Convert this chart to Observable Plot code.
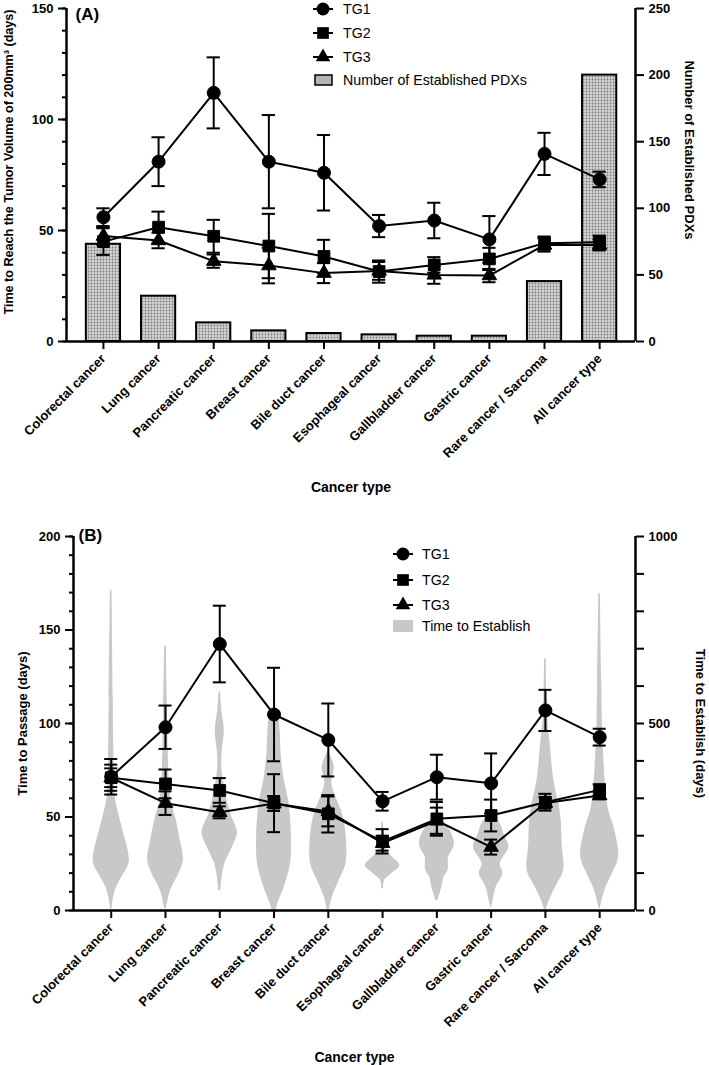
<!DOCTYPE html>
<html><head><meta charset="utf-8">
<script src="https://cdn.jsdelivr.net/npm/d3@7"></script>
<script src="https://cdn.jsdelivr.net/npm/@observablehq/plot@0.6"></script>
<style>
body{margin:0;background:#fff;}
#wrap{position:relative;width:709px;height:1065px;overflow:hidden;font-family:Arial,"Liberation Sans",sans-serif;}
#wrap svg{display:block}
#legend{position:absolute;left:0;top:0;}
</style></head><body><div id="wrap"></div>
<script>
const categories = ["Colorectal cancer","Lung cancer","Pancreatic cancer","Breast cancer","Bile duct cancer","Esophageal cancer","Gallbladder cancer","Gastric cancer","Rare cancer / Sarcoma","All cancer type"];

// Panel A: time to reach 200 mm3 (days), mean and error
const tg1A    = [56, 81, 112, 81, 76, 52, 54.5, 46, 84.5, 73];
const tg1AErr = [4, 11, 16, 21, 17, 5, 8, 10.5, 9.5, 3.5];
const tg2A    = [45, 51.5, 47.4, 43, 38.3, 31.5, 34.5, 37.2, 44.3, 44.7];
const tg2AErr = [6, 7, 7.4, 14.5, 7.5, 5, 3.5, 5, 3, 3];
const tg3A    = [47.5, 45.5, 36.2, 34.2, 30.8, 31.8, 30, 29.7, 43.5, 43.5];
const tg3AErr = [4, 3.5, 3, 8, 4.5, 4, 4, 3, 3, 2.5];
const pdxCount = [73, 34, 14, 8, 6, 5, 4, 4, 45, 200];

// Panel B: time to passage (days)
const tg1B    = [71.5, 98, 142.5, 104.8, 91.2, 58.4, 71.3, 68, 107, 92.7];
const tg1BErr = [9.5, 11.6, 20.5, 25, 19.5, 5, 12, 16, 11, 4.5];
const tg2B    = [71, 67.7, 64.2, 57.4, 51.7, 37, 49, 50.8, 57.9, 64.5];
const tg2BErr = [7, 7.7, 6.6, 15.5, 10, 6.5, 9, 8.5, 4.5, 3];
const tg3B    = [71, 57.4, 52.5, 57.2, 53, 36, 48, 33.9, 57.5, 61.5];
const tg3BErr = [5, 6.3, 3.2, 4, 8, 4, 7, 4, 3, 2];

// Time to establish (days): violin profiles [days, relative density]
const violins = [
  [[0,0.5],[36,2.5],[62,5.3],[98,12.5],[129,17.8],[169,16],[205,12.5],[258,7.5],[303,4],[437,2.5],[570,2],[856,0.8]],
  [[5,0.8],[53,5],[98,13.3],[134,17.7],[187,14.7],[240,10.8],[303,5],[393,3],[526,2],[708,0.8]],
  [[53,1],[80,2],[125,5],[169,12.5],[209,17.5],[258,10.8],[312,6],[383,2],[428,2.5],[481,4.5],[535,2],[584,0.8]],
  [[0,2],[20,4],[62,10],[125,16.3],[187,17.3],[258,16],[300,14],[350,10],[420,7],[480,6],[525,4],[535,1]],
  [[0,1],[36,4],[80,10.8],[125,17.5],[205,17.5],[258,14],[300,8],[339,3.5],[383,6],[410,3],[423,1]],
  [[58,1],[80,2],[98,9],[120,17.2],[147,8],[169,3],[236,0.8]],
  [[27,1],[62,5],[89,7],[107,11],[143,11.7],[169,16.7],[187,17],[214,13],[240,6],[260,2],[275,0.8]],
  [[9,0.5],[27,2],[62,5],[98,11.7],[125,9],[169,17.5],[205,12.5],[227,10],[250,5],[270,1]],
  [[0,0.5],[27,4],[62,10],[107,18],[169,16.7],[258,15],[348,8.3],[437,5],[526,2],[673,0.8]],
  [[5,0.5],[53,5],[98,12.5],[143,18.8],[214,15],[276,8.3],[437,3.5],[615,2],[847,0.8]]
];

const FONT = "Arial, 'Liberation Sans', sans-serif";
const idx = d3.range(categories.length);

function seriesRows(vals, errs, name) {
  return vals.map((v, i) => ({i, v, lo: v - errs[i], hi: v + errs[i], name}));
}
function seriesMarks(rows) {
  const cap = 0.12;
  return [
    Plot.ruleX(rows, {x: "i", y1: "lo", y2: "hi", stroke: "#000", strokeWidth: 2}),
    Plot.ruleY(rows, {y: "hi", x1: d => d.i - cap, x2: d => d.i + cap, stroke: "#000", strokeWidth: 2}),
    Plot.ruleY(rows, {y: "lo", x1: d => d.i - cap, x2: d => d.i + cap, stroke: "#000", strokeWidth: 2}),
    Plot.line(rows, {x: "i", y: "v", stroke: "#000", strokeWidth: 2})
  ];
}
function dotMark(rows, symbol, r) {
  return Plot.dot(rows, {x: "i", y: "v", symbol, r, fill: "#000", stroke: "#000", strokeWidth: 1});
}
function xAxisMarks(dom, yTop) {
  return [
    Plot.ruleX([dom[0]], {y1: 0, y2: yTop, stroke: "#000", strokeWidth: 2.5}),
    Plot.ruleX([dom[1]], {y1: 0, y2: yTop, stroke: "#000", strokeWidth: 2.5}),
    Plot.ruleY([0], {x1: dom[0], x2: dom[1], stroke: "#000", strokeWidth: 2.5}),
    Plot.axisX({ticks: idx, tickFormat: i => categories[i], tickRotate: -45, tickSize: 8, tickPadding: 7,
      strokeWidth: 2, fontSize: 13, fontWeight: "bold", fill: "#000", label: null})
  ];
}
const yText = {fontSize: 13, fontWeight: "bold", fill: "#000", label: null};

// ---------- Panel A ----------
const A = seriesRows(tg1A, tg1AErr, "TG1");
const B2 = seriesRows(tg2A, tg2AErr, "TG2");
const C3 = seriesRows(tg3A, tg3AErr, "TG3");
const kA = 150 / 250;
const barRows = pdxCount.map((c, i) => ({i, c, y: c * kA}));
const domA = [-0.67, 9.65];

const plotA = Plot.plot({
  width: 709, height: 505,
  marginLeft: 66, marginRight: 74, marginTop: 8, marginBottom: 164,
  style: {fontFamily: FONT, fontSize: "12px", fontWeight: "bold", color: "#000", background: "#fff"},
  x: {domain: domA, axis: null},
  y: {domain: [0, 150], axis: null},
  marks: [
    Plot.rectY(barRows, {x1: d => d.i - 0.31, x2: d => d.i + 0.31, y1: 0, y2: "y", fill: "url(#dotsPattern)", stroke: "#000", strokeWidth: 2}),
    ...xAxisMarks(domA, 150),
    Plot.axisY({ticks: d3.range(0, 151, 10), tickSize: 4, tickFormat: () => "", strokeWidth: 2, label: null}),
    Plot.axisY({ticks: [0, 50, 100, 150], tickSize: 8, tickPadding: 5, strokeWidth: 2, ...yText}),
    Plot.axisY({anchor: "right", ticks: [0, 50, 100, 150, 200, 250].map(c => c * kA), tickFormat: d => String(Math.round(d / kA)),
      tickSize: 8, tickPadding: 5, strokeWidth: 2, ...yText}),
    ...seriesMarks(A), ...seriesMarks(C3), ...seriesMarks(B2),
    dotMark(A, "circle", 6.5), dotMark(C3, "triangle", 5.4), dotMark(B2, "square", 6.6),
    Plot.text(["(A)"], {frameAnchor: "top-left", dx: 9, dy: 6, textAnchor: "start", lineAnchor: "middle", fontSize: 17, fontWeight: "bold", fill: "#000"}),
    Plot.text(["Cancer type"], {frameAnchor: "bottom", dy: 146, lineAnchor: "middle", fontSize: 14, fontWeight: "bold", fill: "#000"}),
    Plot.text(["Time to Reach the Tumor Volume of 200mm³ (days)"], {frameAnchor: "left", dx: -58, dy: -13, rotate: -90, textAnchor: "middle", lineAnchor: "middle", fontSize: 12.6, fontWeight: "bold", fill: "#000"}),
    Plot.text(["Number of Established PDXs"], {frameAnchor: "right", dx: 54, dy: -25, rotate: 90, textAnchor: "middle", lineAnchor: "middle", fontSize: 13, fontWeight: "bold", fill: "#000"})
  ]
});

// ---------- Panel B ----------
const P1 = seriesRows(tg1B, tg1BErr, "TG1");
const P2 = seriesRows(tg2B, tg2BErr, "TG2");
const P3 = seriesRows(tg3B, tg3BErr, "TG3");
const kB = 200 / 1000;
const vk = 0.35 / 18.8;
const violinRows = violins.flatMap((prof, i) => prof.map(([d, w]) => ({i, y: d * kB, x1: i - w * vk, x2: i + w * vk})));
const domB = [-0.695, 9.66];

const plotB = Plot.plot({
  width: 709, height: 560,
  marginLeft: 73, marginRight: 74, marginTop: 31, marginBottom: 155,
  style: {fontFamily: FONT, fontSize: "12px", fontWeight: "bold", color: "#000", background: "#fff"},
  x: {domain: domB, axis: null},
  y: {domain: [0, 200], axis: null},
  marks: [
    Plot.areaX(violinRows, {z: "i", y: "y", x1: "x1", x2: "x2", fill: "#c8c8c8", curve: "catmull-rom"}),
    ...xAxisMarks(domB, 200),
    Plot.axisY({ticks: d3.range(0, 201, 10), tickSize: 4, tickFormat: () => "", strokeWidth: 2, label: null}),
    Plot.axisY({ticks: [0, 50, 100, 150, 200], tickSize: 8, tickPadding: 5, strokeWidth: 2, ...yText}),
    Plot.axisY({anchor: "right", ticks: d3.range(0, 1001, 100).map(d => d * kB), tickFormat: d => { const v = Math.round(d / kB); return v % 500 === 0 ? String(v) : ""; },
      tickSize: 8, tickPadding: 5, strokeWidth: 2, ...yText}),
    ...seriesMarks(P1), ...seriesMarks(P3), ...seriesMarks(P2),
    dotMark(P1, "circle", 6.5), dotMark(P3, "triangle", 5.4), dotMark(P2, "square", 6.6),
    Plot.text(["(B)"], {frameAnchor: "top-left", dx: 5, dy: -1, textAnchor: "start", lineAnchor: "middle", fontSize: 17, fontWeight: "bold", fill: "#000"}),
    Plot.text(["Cancer type"], {frameAnchor: "bottom", dy: 147, lineAnchor: "middle", fontSize: 14, fontWeight: "bold", fill: "#000"}),
    Plot.text(["Time to Passage (days)"], {frameAnchor: "left", dx: -51, rotate: -90, textAnchor: "middle", lineAnchor: "middle", fontSize: 13, fontWeight: "bold", fill: "#000"}),
    Plot.text(["Time to Establish (days)"], {frameAnchor: "right", dx: 65, rotate: 90, textAnchor: "middle", lineAnchor: "middle", fontSize: 13, fontWeight: "bold", fill: "#000"})
  ]
});

const wrap = document.getElementById("wrap");
wrap.appendChild(plotA);
wrap.appendChild(plotB);

// dotted fill pattern for the bars
const defs = d3.select(plotA).insert("defs", ":first-child");
const pat = defs.append("pattern").attr("id", "dotsPattern").attr("patternUnits", "userSpaceOnUse").attr("width", 3).attr("height", 3);
pat.append("rect").attr("width", 3).attr("height", 3).attr("fill", "#d4d4d4");
pat.append("circle").attr("cx", 1.5).attr("cy", 1.5).attr("r", 0.9).attr("fill", "#7a7a7a");

// ---------- Legends ----------
const leg = d3.select(wrap).append("svg").attr("id", "legend").attr("width", 709).attr("height", 1065)
  .style("font-family", FONT).style("font-size", "14.2px");
function legendBlock(cx, tx, rows, swatch) {
  const syms = [d3.symbolCircle, d3.symbolSquare, d3.symbolTriangle];
  const sizes = [Math.PI * 6.5 * 6.5, Math.PI * 6.6 * 6.6, Math.PI * 5.4 * 5.4];
  ["TG1", "TG2", "TG3"].forEach((t, k) => {
    const y = rows[k];
    leg.append("line").attr("x1", cx - 10).attr("x2", cx + 10).attr("y1", y).attr("y2", y).attr("stroke", "#000").attr("stroke-width", 2);
    leg.append("path").attr("d", d3.symbol(syms[k], sizes[k])()).attr("transform", `translate(${cx},${y})`).attr("fill", "#000");
    leg.append("text").attr("x", tx).attr("y", y).attr("dy", "0.35em").text(t);
  });
  swatch(rows[3]);
}
legendBlock(323, 343, [9, 33, 57, 80], y => {
  leg.append("rect").attr("x", 315).attr("y", y - 5).attr("width", 17).attr("height", 10).attr("fill", "#b5b5b5").attr("stroke", "#000").attr("stroke-width", 1.5);
  leg.append("text").attr("x", 343).attr("y", y).attr("dy", "0.35em").text("Number of Established PDXs");
});
legendBlock(403, 422, [554, 580, 605, 626], y => {
  leg.append("rect").attr("x", 393).attr("y", y - 6).attr("width", 20).attr("height", 12).attr("fill", "#c8c8c8");
  leg.append("text").attr("x", 422).attr("y", y).attr("dy", "0.35em").text("Time to Establish");
});
</script></body></html>
